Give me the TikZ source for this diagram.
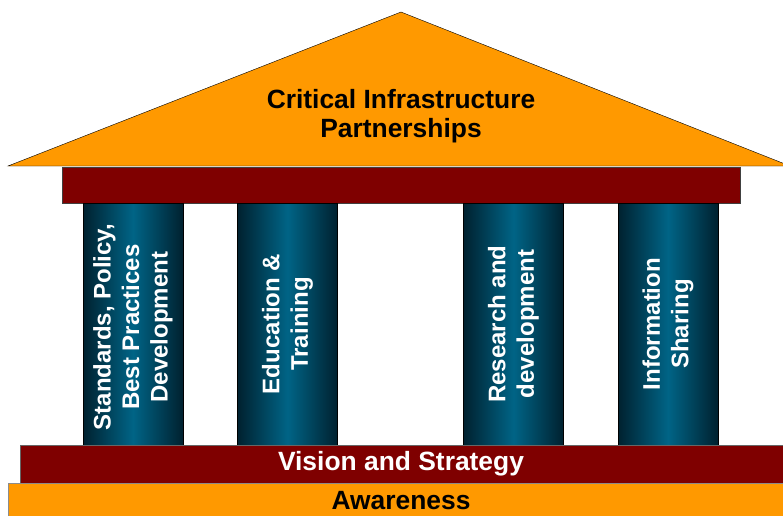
\documentclass[tikz,border=0pt]{standalone}
\usepackage{fontspec}
\setmainfont{Liberation Sans}
\usetikzlibrary{positioning}
\definecolor{roofOrange}{HTML}{FF9900}
\definecolor{beamRed}{HTML}{7F0000}
\definecolor{pillarDark}{HTML}{00212F}
\definecolor{pillarLight}{HTML}{006486}
\tikzstyle{roof}=[draw=black, thin, fill=roofOrange]
\tikzstyle{slab}=[draw=black!75, thin, fill=beamRed]
\tikzstyle{pillar}=[rectangle,
                    draw=black,
                    thin,
                    minimum width=100pt,
                    minimum height=242pt,
                    left color=pillarDark,
                    right color=pillarDark,
                    middle color=pillarLight]
\tikzstyle{label}=[font=\fontsize{26.4}{29.5}\selectfont\bfseries,
                   align=center,
                   inner sep=0pt]
\tikzstyle{pillartext}=[label,
                        font=\fontsize{24}{28.5}\selectfont\bfseries,
                        text=white,
                        rotate=90]

\begin{document}
\begin{tikzpicture}[x=1pt,y=-1pt]
      \useasboundingbox (0,0) rectangle (783,515);

      % roof and beam
      \draw [roof] (8,166) -- (401,12) -- (790,166) -- cycle;
      \node [label] (roof) at (401,116) {Critical Infrastructure\\Partnerships};
      \draw [slab] (62,167) rectangle (740,203);

      % the four pillars
      \node [pillar] (standards) at (133,324) {};
      \node [pillar] (education) at (287.5,324) {};
      \node [pillar] (research) at (513.5,324) {};
      \node [pillar] (sharing) at (668,324) {};

      \node [pillartext] at ([yshift=-3pt]standards) {Standards, Policy,\\Best Practices\\Development};
      \node [pillartext] at (education) {Education \&\\Training};
      \node [pillartext] at (research) {Research and\\development};
      \node [pillartext] at (sharing) {Information\\Sharing};

      % base steps
      \draw [slab, draw=black!60] (20,445) rectangle (790,483);
      \node [label, text=white] (vision) at (401,464) {Vision and Strategy};
      \draw [roof, draw=black!45] (8,483) rectangle (790,525);
      \node [label] (awareness) at (401,501) {Awareness};
\end{tikzpicture}
\end{document}
